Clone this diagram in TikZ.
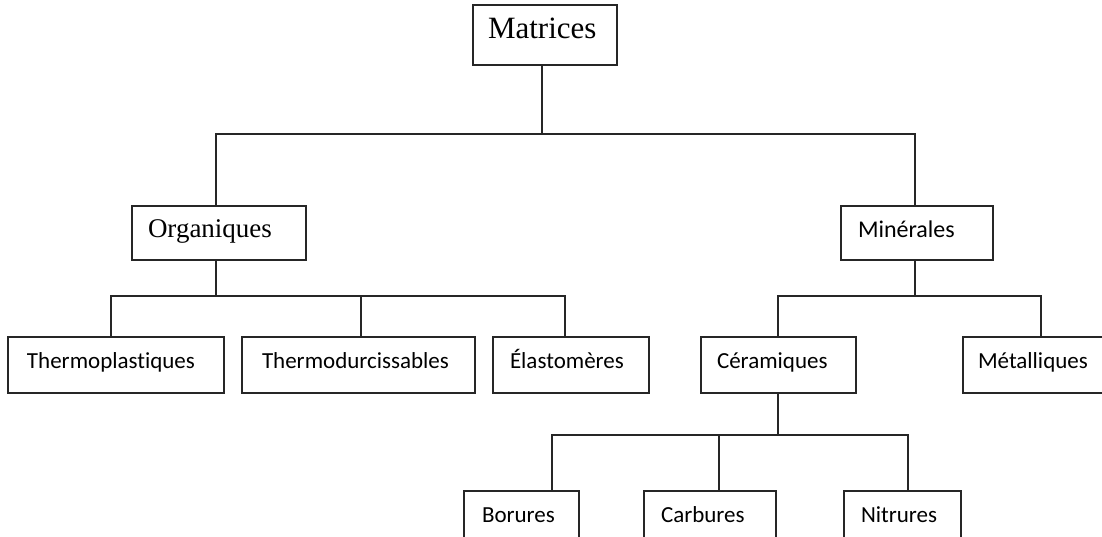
\documentclass[tikz,border=0pt]{standalone}
\usepackage{fontspec}
\setmainfont{Liberation Serif}
\newfontfamily\carlitofont[Ligatures=NoCommon]{Carlito}
\begin{document}
\begin{tikzpicture}[x=1pt,y=-1pt,
  box/.style={draw=black!85, line width=1.2pt, fill=white, rectangle, inner ysep=0pt, align=left},
  serifbig/.style={box, font=\fontsize{31}{31}\selectfont, text height=20pt, text depth=12pt},
  serifmid/.style={box, font=\fontsize{27}{27}\selectfont, text height=17pt, text depth=7pt},
  sansmid/.style={box, font=\carlitofont\fontsize{24}{24}\selectfont, text height=16pt, text depth=8pt},
  sans/.style={box, font=\carlitofont\fontsize{23}{23}\selectfont, text height=15pt, text depth=9pt},
  link/.style={draw=black!85, line width=1.2pt}]
\useasboundingbox (0,0) rectangle (1102,537);
\clip (0,0) rectangle (1102,537);

% boxes
\node[serifbig, inner xsep=15pt, text width=114pt, minimum height=60pt] (mat) at (545,35) {Matrices};
\node[serifmid, inner xsep=16pt, text width=142pt, minimum height=54pt] (org) at (219,233) {Organiques};
\node[sansmid, inner xsep=17pt, text width=118pt, minimum height=54pt] (min) at (917,233) {Minérales};

\node[sans, inner xsep=19pt, text width=178pt, minimum height=56pt] (tp) at (116,365) {Thermoplastiques};
\node[sans, inner xsep=20pt, text width=193pt, minimum height=56pt] (td) at (358.5,365) {Thermodurcissables};
\node[sans, inner xsep=17pt, text width=122pt, minimum height=56pt] (el) at (571,365) {Élastomères};
\node[sans, inner xsep=16pt, text width=123pt, minimum height=56pt] (cer) at (778.5,365) {Céramiques};
\node[sans, inner xsep=15pt, text width=111pt, minimum height=56pt] (met) at (1033.5,365) {Métalliques};

\node[sans, inner xsep=18pt, text width=79pt, minimum height=56pt] (bor) at (521.5,519) {Borures};
\node[sans, inner xsep=17pt, text width=98pt, minimum height=56pt] (car) at (710,519) {Carbures};
\node[sans, inner xsep=17pt, text width=83pt, minimum height=56pt] (nit) at (902.5,519) {Nitrures};

% junction coordinates
\coordinate (j1) at (542,134);
\coordinate (j1l) at (216,134);
\coordinate (j1r) at (915,134);
\coordinate (j2) at (216,296);
\coordinate (j2a) at (111,296);
\coordinate (j2b) at (361,296);
\coordinate (j2c) at (565,296);
\coordinate (j3) at (915,296);
\coordinate (j3a) at (778,296);
\coordinate (j3b) at (1041,296);
\coordinate (j4) at (778,435);
\coordinate (j4a) at (552,435);
\coordinate (j4b) at (719,435);
\coordinate (j4c) at (908,435);

% connectors
\draw[link] (j1 |- mat.south) -- (j1);
\draw[link] (j1l |- org.north) -- (j1l) -- (j1r) -- (j1r |- min.north);

\draw[link] (j2 |- org.south) -- (j2);
\draw[link] (j2a |- tp.north) -- (j2a) -- (j2c) -- (j2c |- el.north);
\draw[link] (j2b) -- (j2b |- td.north);

\draw[link] (j3 |- min.south) -- (j3);
\draw[link] (j3a |- cer.north) -- (j3a) -- (j3b) -- (j3b |- met.north);

\draw[link] (j4 |- cer.south) -- (j4);
\draw[link] (j4a |- bor.north) -- (j4a) -- (j4c) -- (j4c |- nit.north);
\draw[link] (j4b) -- (j4b |- car.north);
\end{tikzpicture}
\end{document}
